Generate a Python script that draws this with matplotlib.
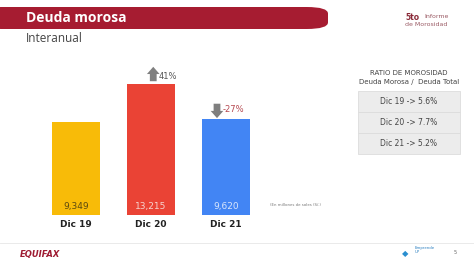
import matplotlib.pyplot as plt
import matplotlib.patches as mpatches

# Datos
periodos = ["Dic 19", "Dic 20", "Dic 21"]
deuda_morosa = [9349, 13215, 9620]
etiquetas = ["9,349", "13,215", "9,620"]
colores = ["#F8BB08", "#EA4335", "#4285F4"]
color_etiqueta = ["#5b4a10", "#f6d3cf", "#d8e6fc"]
variaciones = ["41%", "-27%"]
ratios = ["Dic 19 -> 5.6%", "Dic 20 -> 7.7%", "Dic 21 -> 5.2%"]

W, H = 474, 263
fig = plt.figure(figsize=(W / 100, H / 100), dpi=100)
fig.patch.set_facecolor("white")

def fx(px):
    return px / W

def fy(py):
    return 1 - py / H

# Banda del titulo
banda = mpatches.FancyBboxPatch((fx(-20), fy(29)), fx(348), fy(7) - fy(29),
                                boxstyle="round,pad=0,rounding_size=0.045",
                                transform=fig.transFigure, facecolor="#A61C31",
                                edgecolor="none", mutation_aspect=H / W)
fig.patches.append(banda)
fig.text(fx(26), fy(18), "Deuda morosa", color="white", fontsize=10,
         fontweight="bold", va="center", ha="left", family="Open Sans")
fig.text(fx(26), fy(38), "Interanual", color="#444444", fontsize=8.5,
         va="center", ha="left", family="Open Sans")
fig.text(fx(405), fy(17), "5to", color="#8a2a38", fontsize=5.5, fontweight="bold",
         va="center", ha="left")
fig.text(fx(424), fy(17), "Informe", color="#9a5a64", fontsize=4.5, va="center", ha="left")
fig.text(fx(405), fy(25), "de Morosidad", color="#9a5a64", fontsize=4.5, va="center", ha="left")

# Grafico de barras
ax = fig.add_axes([fx(38.5), fy(215), fx(225), (215 - 60) / H])
x = range(len(periodos))
ax.bar(x, deuda_morosa, width=0.64, color=colores)
ax.set_xlim(-0.5, 2.5)
ax.set_ylim(0, 15600)
ax.axis("off")

for i, v in enumerate(deuda_morosa):
    ax.text(i, 900, etiquetas[i], ha="center", va="center", fontsize=6.5,
            color=color_etiqueta[i])
    ax.text(i, -1000, periodos[i], ha="center", va="center", fontsize=6.5,
            fontweight="bold", color="#222222", clip_on=False)

# Flechas de variacion
estilo = dict(arrowstyle="simple,head_length=0.8,head_width=1.4,tail_width=0.75",
              color="#7f7f7f", lw=0, mutation_scale=6.5, shrinkA=0, shrinkB=0)
ax.annotate("", xy=(1.03, deuda_morosa[1] + 1700), xytext=(1.03, deuda_morosa[1] + 250),
            arrowprops=estilo)
ax.text(1.1, deuda_morosa[1] + 750, variaciones[0], fontsize=6, color="#555555",
        va="center", ha="left")
ax.annotate("", xy=(1.88, deuda_morosa[2] + 130), xytext=(1.88, deuda_morosa[2] + 1580),
            arrowprops=estilo)
ax.text(1.95, deuda_morosa[2] + 950, variaciones[1], fontsize=6, color="#b5474f",
        va="center", ha="left")

fig.text(fx(270), fy(205), "(En millones de soles (S/.)", fontsize=2.8, color="#777777",
         va="center", ha="left")

# Tabla de ratios
fig.text(fx(409), fy(73), "RATIO DE MOROSIDAD", fontsize=5, color="#444444",
         ha="center", va="center")
fig.text(fx(409), fy(82), "Deuda Morosa /  Deuda Total", fontsize=5, color="#444444",
         ha="center", va="center")
for k, r in enumerate(ratios):
    top = 91 + k * 21
    celda = mpatches.Rectangle((fx(358), fy(top + 21)), fx(102), fy(top) - fy(top + 21),
                               transform=fig.transFigure, facecolor="#ececec",
                               edgecolor="#dcdcdc", lw=0.6)
    fig.patches.append(celda)
    fig.text(fx(409), fy(top + 10.5), r, fontsize=5.5, color="#444444",
             ha="center", va="center")

# Pie de pagina
fig.add_artist(plt.Line2D([fx(0), fx(474)], [fy(243), fy(243)], color="#e6e6e6", lw=0.6))
fig.text(fx(20), fy(254), "EQUIFAX", fontsize=6, fontweight="bold", fontstyle="italic",
         color="#9e1b32", ha="left", va="center")
fig.text(fx(415), fy(250), "Emprende\nUP", fontsize=2.8, color="#2a7fc0",
         ha="left", va="center", linespacing=0.9)
fig.text(fx(405), fy(254), "\u25c6", fontsize=6, color="#2a8fd0", ha="center", va="center")
fig.text(fx(455), fy(253), "5", fontsize=3.5, color="#666666", ha="center", va="center")

fig.savefig("out.png", dpi=100)
